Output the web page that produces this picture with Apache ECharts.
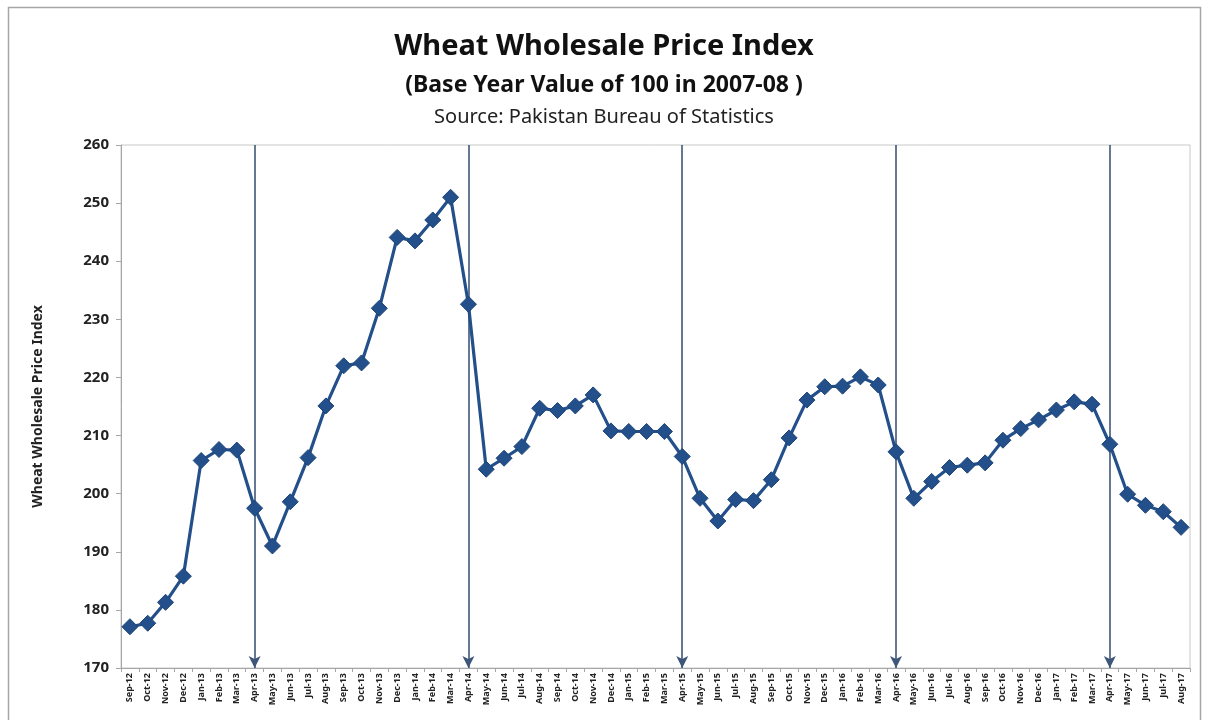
<!DOCTYPE html>
<html>
<head>
<meta charset="utf-8">
<script src="https://cdn.jsdelivr.net/npm/echarts@6/dist/echarts.min.js"></script>
<style>
  html, body { margin: 0; padding: 0; background: #ffffff; }
  #chart { width: 1208px; height: 720px; }
</style>
</head>
<body>
<div id="chart"></div>
<script>
// Monthly categories, Sep-2012 .. Aug-2017
const months = [
  'Sep-12','Oct-12','Nov-12','Dec-12','Jan-13','Feb-13','Mar-13','Apr-13','May-13','Jun-13','Jul-13','Aug-13',
  'Sep-13','Oct-13','Nov-13','Dec-13','Jan-14','Feb-14','Mar-14','Apr-14','May-14','Jun-14','Jul-14','Aug-14',
  'Sep-14','Oct-14','Nov-14','Dec-14','Jan-15','Feb-15','Mar-15','Apr-15','May-15','Jun-15','Jul-15','Aug-15',
  'Sep-15','Oct-15','Nov-15','Dec-15','Jan-16','Feb-16','Mar-16','Apr-16','May-16','Jun-16','Jul-16','Aug-16',
  'Sep-16','Oct-16','Nov-16','Dec-16','Jan-17','Feb-17','Mar-17','Apr-17','May-17','Jun-17','Jul-17','Aug-17'
];

// Wheat wholesale price index (2007-08 = 100)
const priceIndex = [
  177.1, 177.7, 181.3, 185.8, 205.7, 207.6, 207.5, 197.5, 191.0, 198.6, 206.2, 215.1,
  222.0, 222.5, 231.9, 244.1, 243.5, 247.1, 251.0, 232.6, 204.2, 206.1, 208.1, 214.7,
  214.3, 215.1, 217.0, 210.8, 210.7, 210.7, 210.7, 206.4, 199.2, 195.3, 199.0, 198.8,
  202.4, 209.6, 216.1, 218.4, 218.5, 220.1, 218.7, 207.2, 199.2, 202.1, 204.5, 204.9,
  205.3, 209.2, 211.2, 212.7, 214.4, 215.8, 215.4, 208.5, 199.9, 198.0, 196.9, 194.2
];

// Harvest-season markers (April of each year)
const aprilMarkers = ['Apr-13', 'Apr-14', 'Apr-15', 'Apr-16', 'Apr-17'];

// Value axis range
const yMin = 170, yMax = 260, yStep = 10;

const FONT = "'Noto Sans', 'Open Sans', sans-serif";

const chart = echarts.init(document.getElementById('chart'), null, { renderer: 'canvas' });

chart.setOption({
  backgroundColor: '#ffffff',
  animation: false,
  graphic: [
    {
      type: 'rect',
      shape: { x: 8.5, y: 7.5, width: 1192, height: 730 },
      style: { fill: 'none', stroke: '#a6a6a6', lineWidth: 1.5 },
      silent: true
    }
  ],
  title: [
    {
      text: 'Wheat Wholesale Price Index',
      left: 'center',
      top: 27,
      textStyle: { fontFamily: FONT, fontSize: 29, fontWeight: 'bold', color: '#111111' }
    },
    {
      text: '(Base Year Value of 100 in 2007-08 )',
      left: 'center',
      top: 69,
      textStyle: { fontFamily: FONT, fontSize: 23, fontWeight: 'bold', color: '#111111' }
    },
    {
      text: 'Source: Pakistan Bureau of Statistics',
      left: 'center',
      top: 102,
      textStyle: { fontFamily: FONT, fontSize: 20, fontWeight: 'normal', color: '#222222' }
    }
  ],
  grid: {
    left: 121,
    right: 18,
    top: 145,
    bottom: 52,
    show: true,
    borderColor: '#c8c8c8',
    borderWidth: 1
  },
  xAxis: {
    type: 'category',
    data: months,
    boundaryGap: true,
    axisLine: { show: true, lineStyle: { color: '#a6a6a6', width: 1 } },
    axisTick: { show: true, alignWithLabel: false, length: 4, lineStyle: { color: '#a6a6a6' } },
    axisLabel: {
      interval: 0,
      rotate: 90,
      margin: 5,
      fontFamily: FONT,
      fontSize: 9,
      fontWeight: 'bold',
      color: '#222222'
    },
    splitLine: { show: false }
  },
  yAxis: {
    type: 'value',
    min: yMin,
    max: yMax,
    interval: yStep,
    name: 'Wheat Wholesale Price Index',
    nameLocation: 'middle',
    nameGap: 76,
    nameRotate: 90,
    nameTextStyle: { fontFamily: FONT, fontSize: 14, fontWeight: 'bold', color: '#222222' },
    axisLine: { show: true, lineStyle: { color: '#a6a6a6', width: 1 } },
    axisTick: { show: true, length: 5, lineStyle: { color: '#a6a6a6' } },
    axisLabel: {
      margin: 12,
      fontFamily: FONT,
      fontSize: 15,
      fontWeight: 'bold',
      color: '#222222'
    },
    splitLine: { show: false }
  },
  series: [
    {
      type: 'line',
      name: 'Wheat Wholesale Price Index',
      data: priceIndex,
      symbol: 'diamond',
      symbolSize: 16,
      lineStyle: { color: '#23508a', width: 3.2 },
      itemStyle: { color: '#23508a', borderColor: '#1d4478', borderWidth: 1 },
      z: 5,
      markLine: {
        silent: true,
        symbol: ['none', 'arrow'],
        symbolSize: [9, 12],
        label: { show: false },
        lineStyle: { color: '#3e5679', width: 1.6, type: 'solid' },
        data: aprilMarkers.map(m => [
          { coord: [m, yMax] },
          { coord: [m, yMin] }
        ])
      }
    }
  ]
});
</script>
</body>
</html>
